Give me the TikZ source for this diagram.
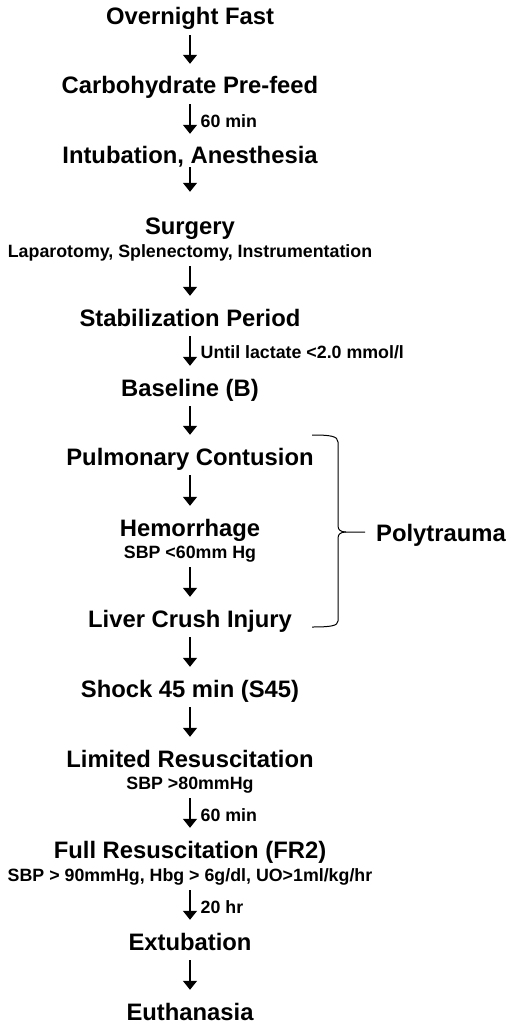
\documentclass[tikz,border=0pt]{standalone}
\usepackage{fontspec}
\setmainfont{Liberation Sans}
\usepackage{tikz}
\usetikzlibrary{arrows.meta}

\begin{document}
\begin{tikzpicture}[x=1pt, y=-1pt,
    stage/.style = {inner sep=0pt, anchor=base, font=\bfseries\fontsize{23.8}{26}\selectfont, text height=17pt, text depth=5pt},
    note/.style = {inner sep=0pt, anchor=base, font=\bfseries\fontsize{17.8}{20}\selectfont, text height=13pt, text depth=4pt},
    lbl/.style = {note, anchor=west, xshift=10pt},
    flow/.style = {line width=1.3pt, -{Triangle[length=9pt, width=14pt]}, shorten <=5pt, shorten >=13pt}]
    \useasboundingbox (0,0) rectangle (512,1027);
    \node[stage] (fast) at (190,25) {Overnight Fast};
    \node[stage] (carb) at (190,94) {Carbohydrate Pre-feed};
    \node[stage] (intub) at (190,164) {Intubation, Anesthesia};
    \node[stage] (surg) at (190,234) {Surgery};
    \node[note] (surgnote) at (190,257) {Laparotomy, Splenectomy, Instrumentation};
    \node[stage] (stab) at (190,326) {Stabilization Period};
    \node[stage] (base) at (190,396) {Baseline (B)};
    \node[stage] (pulm) at (190,465) {Pulmonary Contusion};
    \node[stage] (hem) at (190,536) {Hemorrhage};
    \node[note] (hemnote) at (190,558) {SBP <60mm Hg};
    \node[stage] (liver) at (190,627) {Liver Crush Injury};
    \node[stage, anchor=base west] (poly) at (376,541) {Polytrauma};
    \node[stage] (shock) at (190,697) {Shock 45 min (S45)};
    \node[stage] (limres) at (190,767) {Limited Resuscitation};
    \node[note] (limnote) at (190,789) {SBP >80mmHg};
    \node[stage] (fullres) at (190,858) {Full Resuscitation (FR2)};
    \node[note] (fullnote) at (190,881) {SBP > 90mmHg, Hbg > 6g/dl, UO>1ml/kg/hr};
    \node[stage] (extub) at (190,950) {Extubation};
    \node[stage] (euth) at (190,1020) {Euthanasia};

    \draw[flow] (fast) -- (carb);
    \draw[flow] (carb) -- node[lbl] {60 min} (intub);
    \draw[flow, shorten <=-2pt, shorten >=25pt] (intub) -- (surg);
    \draw[flow] (surgnote) -- (stab);
    \draw[flow] (stab) -- node[lbl, yshift=1.5pt] {Until lactate <2.0 mmol/l} (base);
    \draw[flow] (base) -- (pulm);
    \draw[flow] (pulm) -- (hem);
    \draw[flow] (hemnote) -- (liver);
    \draw[flow] (liver) -- (shock);
    \draw[flow] (shock) -- (limres);
    \draw[flow] (limnote) -- node[lbl] {60 min} (fullres);
    \draw[flow] (fullnote) -- node[lbl] {20 hr} (extub);
    \draw[flow] (extub) -- (euth);

    \draw[line width=1pt] (312,435) .. controls (330,435) and (338,436) .. (338,442) -- (338,526)
        .. controls (338,530) and (341,532) .. (346,532) -- (365,532);
    \draw[line width=1pt] (346,532) .. controls (341,532) and (338,534) .. (338,538) -- (338,621)
        .. controls (338,626) and (330,627) .. (312,627);
\end{tikzpicture}
\end{document}
